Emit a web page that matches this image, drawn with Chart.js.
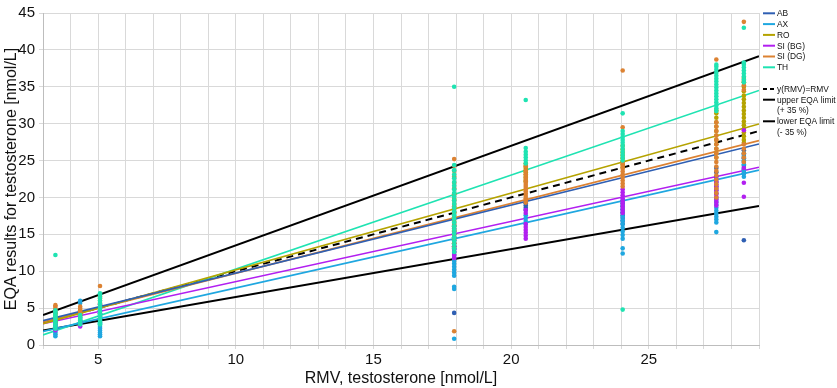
<!DOCTYPE html>
<html>
<head>
<meta charset="utf-8">
<script src="https://cdn.jsdelivr.net/npm/chart.js@4.4.1/dist/chart.umd.min.js"></script>
<style>
  html, body { margin: 0; padding: 0; background: #fff; }
</style>
</head>
<body>
<canvas id="eqaChart" width="837" height="388"></canvas>
<script>
// participant labs and their colours
const labs = ["AB", "AX", "RO", "SI (BG)", "SI (DG)", "TH"];
const labColors = ["#2f5fb3", "#1fa7e0", "#b5a300", "#b21ff0", "#dc8232", "#1fe3b2"];

// RMV of each EQA sample (x position of the point columns)
const rmv = [3.45, 4.35, 5.07, 17.93, 20.53, 24.05, 27.45, 28.45];

// results per lab, one list per sample (same order as rmv)
const abResults = [
  [2.6, 2.9, 3.2, 3.5], [3.3, 3.7, 4.0], [3.0, 3.3, 3.6, 3.9, 4.2, 4.6],
  [4.35, 13.0, 13.4, 13.8, 14.2, 14.6, 15.0, 15.4, 15.8, 16.2], [18.3, 18.6, 18.9, 19.2],
  [16.4, 16.8, 17.2, 17.6, 18.0, 18.4, 18.8, 19.2, 19.6], [20.5, 21.0, 21.5, 22.1, 22.8, 23.4, 24.0],
  [14.2, 23.3, 23.8, 24.3, 24.8, 25.3, 25.8, 26.4]
];
const axResults = [
  [1.2, 1.45, 1.7, 1.95, 2.2, 2.45], [2.8, 3.1, 3.4, 5.7, 6.0], [1.2, 1.45, 1.7, 1.95, 2.2, 2.45, 2.7, 2.95],
  [0.85, 7.6, 7.9, 9.4, 9.8, 10.2, 10.6, 11.0, 11.4, 11.8, 12.2, 12.6, 13.0], [16.4, 16.8, 17.2, 17.6],
  [12.4, 13.1, 14.4, 14.9, 15.4, 15.9, 16.4, 16.9, 17.4, 17.9, 18.4, 18.9, 19.4],
  [15.3, 16.6, 17.0, 17.4, 17.8, 18.2, 18.6, 19.0, 19.4, 19.8], [22.8, 23.2, 23.6, 24.0, 24.5, 25.0, 25.5, 26.0]
];
const roResults = [
  [3.1, 3.4, 3.7, 4.0, 4.3], [4.1, 4.4, 4.7], [4.9, 5.2, 5.5],
  [15.5, 16.1, 16.7, 17.3, 17.9, 18.5, 19.1, 19.8, 20.5],
  [22.2, 22.5, 22.8, 23.1, 23.4, 23.7, 24.0, 24.3, 24.6],
  [24.1, 24.5, 24.9, 25.3, 25.7, 26.1, 26.5, 27.0],
  [25.4, 26.0, 26.6, 27.2, 27.8, 28.4, 29.0, 29.6, 30.2, 30.8, 31.4, 31.8],
  [27.4, 27.8, 28.3, 28.8, 29.3, 29.8, 30.3, 30.8, 31.3, 31.8, 32.3, 32.8, 33.3, 33.8, 34.4, 35.0, 35.6, 36.2]
];
const siBgResults = [
  [2.0, 2.3, 2.8], [2.5, 2.8, 3.1], [4.3, 4.7, 5.0, 5.5], [11.8, 12.2, 12.6, 13.0, 13.4],
  [14.4, 14.8, 15.2, 15.6, 16.0, 16.4, 17.9, 18.3], [17.9, 18.3, 18.7, 19.1, 19.5, 19.9, 20.3, 20.7, 21.1],
  [18.9, 19.3, 19.7, 20.1, 20.5, 20.9, 21.3, 21.7, 22.1, 22.5], [20.1, 22.0, 24.0, 29.1]
];
const siDgResults = [
  [4.3, 4.6, 4.9, 5.2, 5.4], [4.0, 4.3, 4.6, 4.9, 5.2], [5.7, 6.0, 6.3, 6.6, 8.0],
  [1.86, 13.2, 13.8, 14.4, 15.0, 15.6, 16.4, 17.2, 18.0, 18.8, 19.6, 20.4, 21.2, 22.0, 22.8, 23.6, 24.3, 25.2],
  [19.3, 19.6, 19.9, 20.2, 20.5, 20.8, 21.1, 21.4, 21.7, 22.0, 22.3, 22.7, 23.1, 23.6, 24.2],
  [21.5, 21.9, 22.3, 22.7, 23.1, 23.5, 23.9, 24.3, 24.7, 29.5, 37.2],
  [20.0, 20.6, 21.2, 21.8, 22.4, 23.0, 23.6, 24.2, 24.8, 25.4, 26.0, 26.6, 27.2, 27.8, 28.4, 29.0, 29.6, 30.2, 38.7],
  [24.8, 25.4, 26.0, 26.6, 27.2, 34.6, 35.2, 35.8, 43.8]
];
const thResults = [
  [2.2, 2.45, 2.7, 2.95, 3.2, 3.45, 3.7, 3.95, 4.2, 4.45, 4.7, 12.2], [2.8, 3.05, 3.3, 3.55, 3.8, 4.05],
  [2.8, 3.05, 3.3, 3.55, 3.8, 4.05, 4.3, 4.6, 4.9, 5.2, 5.6, 6.0, 6.4, 6.8, 7.0],
  [12.6, 13.1, 13.6, 14.1, 14.6, 15.1, 15.6, 16.1, 16.6, 17.1, 17.6, 18.1, 18.6, 19.1, 19.6, 20.1,
   20.6, 21.1, 21.6, 22.1, 22.6, 23.1, 23.7, 24.4, 35.0],
  [24.6, 25.0, 25.4, 25.8, 26.2, 26.7, 33.2],
  [4.8, 25.0, 25.4, 25.8, 26.2, 26.6, 27.0, 27.4, 27.8, 28.2, 28.6, 29.0, 31.4],
  [31.7, 32.1, 32.5, 32.9, 33.3, 33.7, 34.1, 34.5, 34.9, 35.3, 35.7, 36.1, 36.5, 36.9, 37.3, 37.7, 38.0],
  [35.6, 36.0, 36.4, 36.8, 37.2, 37.6, 38.0, 38.3, 43.0]
];
const labResults = [abResults, axResults, roResults, siBgResults, siDgResults, thResults];

// regression lines per lab: value at RMV 3 and at RMV 29
const xRange = [3, 29];
const fitAtStart = [3.3, 1.85, 2.9, 2.88, 3.1, 1.37];
const fitAtEnd = [27.25, 23.7, 29.96, 24.1, 27.7, 34.5];

// identity line and EQA limits (+/- 35 %)
const refFactors = [1, 1.35, 0.65];

const datasets = [];
labs.forEach((lab, i) => {
  const pts = [];
  labResults[i].forEach((vals, c) => vals.forEach(v => pts.push({ x: rmv[c], y: v })));
  // later labs are painted over earlier ones, as in the original
  datasets.push({
    label: lab,
    data: pts,
    backgroundColor: labColors[i],
    borderWidth: 0,
    pointRadius: 2.3,
    order: -i
  });
  datasets.push({
    label: lab + " fit",
    data: [{ x: xRange[0], y: fitAtStart[i] }, { x: xRange[1], y: fitAtEnd[i] }],
    showLine: true,
    borderColor: labColors[i],
    borderWidth: 1.6,
    pointRadius: 0,
    order: 1
  });
});
refFactors.forEach((f, i) => {
  datasets.push({
    label: "ref" + i,
    data: xRange.map(x => ({ x: x, y: x * f })),
    showLine: true,
    borderColor: "#000",
    borderWidth: 2,
    borderDash: i === 0 ? [7, 5] : [],
    pointRadius: 0,
    order: 1
  });
});

// legend on the right, drawn by hand because of the two-line entries
const legendRows = [
  { color: labColors[0], text: "AB" },
  { color: labColors[1], text: "AX" },
  { color: labColors[2], text: "RO" },
  { color: labColors[3], text: "SI (BG)" },
  { color: labColors[4], text: "SI (DG)" },
  { color: labColors[5], text: "TH" },
  null,
  { color: "#000", dash: [4, 3], text: "y(RMV)=RMV" },
  { color: "#000", text: "upper EQA limit" },
  { text: "(+ 35 %)" },
  { color: "#000", text: "lower EQA limit" },
  { text: "(- 35 %)" }
];

const sideLegend = {
  id: "sideLegend",
  afterDraw(chart) {
    const ctx = chart.ctx;
    const x0 = chart.chartArea.right + 4;
    ctx.save();
    ctx.font = "8.4px 'Liberation Sans', Arial, sans-serif";
    ctx.textBaseline = "middle";
    ctx.fillStyle = "#111";
    legendRows.forEach((row, r) => {
      if (!row) return;
      const y = 13.3 + r * 10.8;
      if (row.color) {
        ctx.beginPath();
        ctx.strokeStyle = row.color;
        ctx.lineWidth = 2;
        ctx.setLineDash(row.dash || []);
        ctx.moveTo(x0, y);
        ctx.lineTo(x0 + 12, y);
        ctx.stroke();
      }
      ctx.fillText(row.text, x0 + 14, y + 0.5);
    });
    ctx.restore();
  }
};

new Chart(document.getElementById("eqaChart"), {
  type: "scatter",
  data: { datasets: datasets },
  plugins: [sideLegend],
  options: {
    responsive: false,
    animation: false,
    layout: { padding: { top: 7, right: 78, left: 2, bottom: 0 } },
    plugins: { legend: { display: false }, tooltip: { enabled: false } },
    scales: {
      x: {
        type: "linear",
        min: 3,
        max: 29,
        afterFit: s => { s.height = 43; },
        afterBuildTicks: s => { s.ticks = []; for (let v = 3; v <= 29; v++) s.ticks.push({ value: v }); },
        ticks: {
          autoSkip: false,
          maxRotation: 0,
          padding: 2,
          color: "#111",
          font: { family: "'Liberation Sans', Arial, sans-serif", size: 15 },
          callback: v => (v % 5 === 0 ? v : "")
        },
        grid: { color: "#d9d9d9", tickLength: 4 },
        border: { color: "#bdbdbd" },
        title: {
          display: true,
          text: "RMV, testosterone [nmol/L]",
          color: "#111",
          padding: { top: 0, bottom: 0 },
          font: { family: "'Liberation Sans', Arial, sans-serif", size: 16 }
        }
      },
      y: {
        min: 0,
        max: 45,
        afterFit: s => { s.width = 41; },
        ticks: {
          stepSize: 5,
          padding: 4,
          color: "#111",
          font: { family: "'Liberation Sans', Arial, sans-serif", size: 15 }
        },
        grid: { color: "#d9d9d9", tickLength: 4 },
        border: { color: "#bdbdbd" },
        title: {
          display: true,
          text: "EQA results for testosterone [nmol/L]",
          color: "#111",
          padding: { top: 0, bottom: 0 },
          font: { family: "'Liberation Sans', Arial, sans-serif", size: 16 }
        }
      }
    }
  }
});
</script>
</body>
</html>
